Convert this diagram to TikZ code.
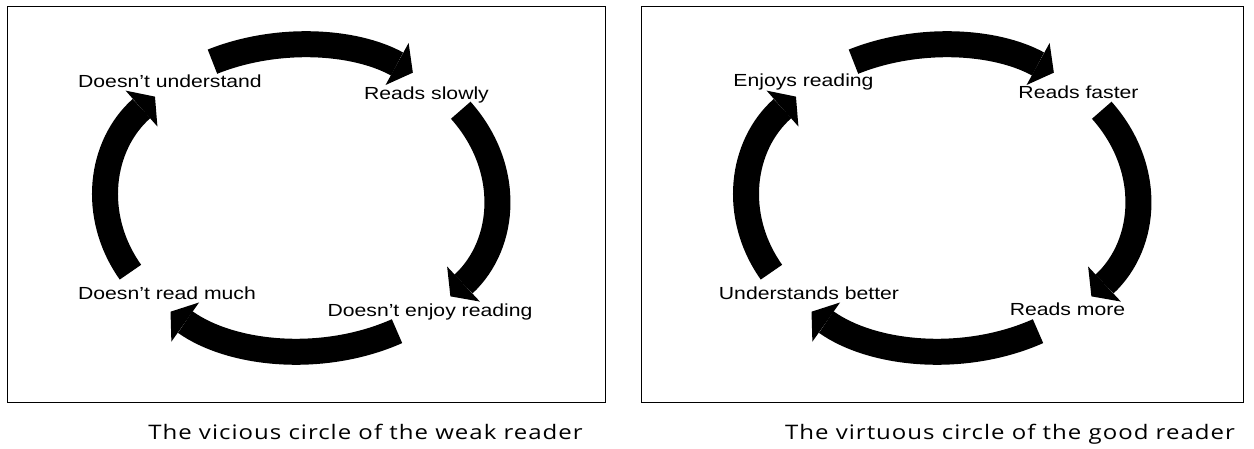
\documentclass[tikz,border=0pt]{standalone}
\usepackage{fontspec}
\usepackage{tikz}
\usetikzlibrary{arrows.meta}
\newfontfamily\lblfont[FakeStretch=1.21]{Liberation Sans}
\newfontfamily\capfont[FakeStretch=1.2,LetterSpace=5]{Open Sans}

\tikzset{
  cyclearrow/.style={line width=26pt,-{Triangle[length=18pt,width=48pt,line width=0pt]}},
  lbl/.style={font=\lblfont\fontsize{17.5}{20}\selectfont,anchor=base,inner sep=0pt},
  caption/.style={font=\capfont\fontsize{20}{24}\selectfont,anchor=base,inner sep=0pt},
  frame/.style={line width=1pt}
}

\begin{document}
\begin{tikzpicture}[x=1pt,y=1pt]
  \useasboundingbox (0,0) rectangle (1254,448);

  \draw[frame] (7,46) rectangle (605,441);
  \draw[frame] (641,46) rectangle (1243,441);

  \coordinate (wc) at (301,250);
  \coordinate (gc) at (942,250);

  \draw[cyclearrow] (wc) ++(117:195pt and 153pt) arc[start angle=117,end angle=55,x radius=195pt,y radius=153pt];
  \draw[cyclearrow] (wc) ++(35:195pt and 153pt) arc[start angle=35,end angle=-40,x radius=195pt,y radius=153pt];
  \draw[cyclearrow] (wc) ++(-60.5:195pt and 153pt) arc[start angle=-60.5,end angle=-132,x radius=195pt,y radius=153pt];
  \draw[cyclearrow] (wc) ++(209:195pt and 153pt) arc[start angle=209,end angle=138.5,x radius=195pt,y radius=153pt];

  \draw[cyclearrow] (gc) ++(117:195pt and 153pt) arc[start angle=117,end angle=55,x radius=195pt,y radius=153pt];
  \draw[cyclearrow] (gc) ++(35:195pt and 153pt) arc[start angle=35,end angle=-40,x radius=195pt,y radius=153pt];
  \draw[cyclearrow] (gc) ++(-60.5:195pt and 153pt) arc[start angle=-60.5,end angle=-132,x radius=195pt,y radius=153pt];
  \draw[cyclearrow] (gc) ++(209:195pt and 153pt) arc[start angle=209,end angle=138.5,x radius=195pt,y radius=153pt];

  \node[lbl] (w1) at (170,360) {Doesn’t understand};
  \node[lbl] (w2) at (426.5,348.5) {Reads slowly};
  \node[lbl] (w3) at (430,132) {Doesn’t enjoy reading};
  \node[lbl] (w4) at (167,148.5) {Doesn’t read much};

  \node[lbl] (g1) at (803.5,361) {Enjoys reading};
  \node[lbl] (g2) at (1078.5,349) {Reads faster};
  \node[lbl] (g3) at (1067.5,133) {Reads more};
  \node[lbl] (g4) at (809,149) {Understands better};

  \node[caption] (wcap) at (365.5,9) {The vicious circle of the weak reader};
  \node[caption] (gcap) at (1010,9) {The virtuous circle of the good reader};
\end{tikzpicture}
\end{document}
